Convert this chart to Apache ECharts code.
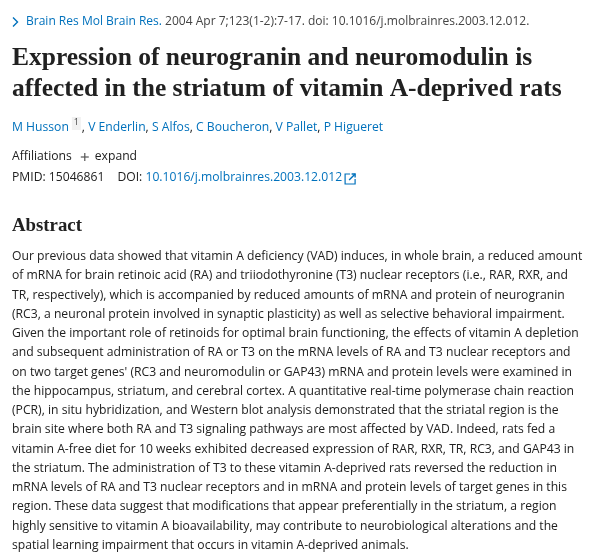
<!DOCTYPE html>
<html lang="en">
<head>
    <meta charset="utf-8">
    <title>Abstract</title>
    <script src="https://cdn.jsdelivr.net/npm/echarts@6/dist/echarts.min.js"></script>
    <style>
        html, body { margin: 0; padding: 0; background: #fff; }
        #page { width: 604px; height: 560px; }
    </style>
</head>
<body>
<div id="page"></div>
<script>
    // citation line: [text, isLink]
    var citation = [
        ['Brain Res Mol Brain Res.', true],
        [' 2004 Apr 7;123(1-2):7-17. doi: 10.1016/j.molbrainres.2003.12.012.', false]
    ];
    var titleLines = [
        'Expression of neurogranin and neuromodulin is',
        'affected in the striatum of vitamin A-deprived rats'
    ];
    var authors = ['M Husson', 'V Enderlin', 'S Alfos', 'C Boucheron', 'V Pallet', 'P Higueret'];
    var pmid = '15046861';
    var doi = '10.1016/j.molbrainres.2003.12.012';
    var abstractLines = [
        'Our previous data showed that vitamin A deficiency (VAD) induces, in whole brain, a reduced amount',
        'of mRNA for brain retinoic acid (RA) and triiodothyronine (T3) nuclear receptors (i.e., RAR, RXR, and',
        'TR, respectively), which is accompanied by reduced amounts of mRNA and protein of neurogranin',
        '(RC3, a neuronal protein involved in synaptic plasticity) as well as selective behavioral impairment.',
        'Given the important role of retinoids for optimal brain functioning, the effects of vitamin A depletion',
        'and subsequent administration of RA or T3 on the mRNA levels of RA and T3 nuclear receptors and',
        "on two target genes' (RC3 and neuromodulin or GAP43) mRNA and protein levels were examined in",
        'the hippocampus, striatum, and cerebral cortex. A quantitative real-time polymerase chain reaction',
        '(PCR), in situ hybridization, and Western blot analysis demonstrated that the striatal region is the',
        'brain site where both RA and T3 signaling pathways are most affected by VAD. Indeed, rats fed a',
        'vitamin A-free diet for 10 weeks exhibited decreased expression of RAR, RXR, TR, RC3, and GAP43 in',
        'the striatum. The administration of T3 to these vitamin A-deprived rats reversed the reduction in',
        'mRNA levels of RA and T3 nuclear receptors and in mRNA and protein levels of target genes in this',
        'region. These data suggest that modifications that appear preferentially in the striatum, a region',
        'highly sensitive to vitamin A bioavailability, may contribute to neurobiological alterations and the',
        'spatial learning impairment that occurs in vitamin A-deprived animals.'
    ];

    var SANS = '"Open Sans", "Noto Sans", sans-serif';
    var SERIF = '"Liberation Serif", "DejaVu Serif", serif';
    var DARK = '#212121';
    var GREY = '#444444';
    var BLUE = '#0071bc';

    var ctx = document.createElement('canvas').getContext('2d');
    function measure(text, size, family, weight) {
        ctx.font = (weight || 'normal') + ' ' + size + 'px ' + family;
        return ctx.measureText(text).width;
    }
    // pick a font size so that a line covers the given width
    function fitSize(text, width, family, weight) {
        return width / measure(text, 100, family, weight) * 100;
    }

    var bodySize = fitSize(abstractLines[0], 571, SANS);
    var titleSize = fitSize(titleLines[1], 550, SERIF, 'bold');
    var headSize = fitSize(citation[0][0] + citation[1][0], 504, SANS);
    var absSize = fitSize('Abstract', 70, SERIF, 'bold');

    var elements = [];
    function text(x, y, str, color, size, family, weight) {
        elements.push({
            type: 'text', x: x, y: y, silent: true,
            style: {
                text: str, fill: color, fontSize: size, fontFamily: family,
                fontWeight: weight || 'normal', verticalAlign: 'middle', align: 'left'
            }
        });
        return x + measure(str, size, family, weight);
    }
    function runs(x, y, parts, size) {
        parts.forEach(function (p) {
            x = text(x, y, p[0], p[1], size, SANS);
        });
        return x;
    }

    // citation line with chevron
    elements.push({
        type: 'polyline', silent: true,
        shape: { points: [[13, 17.5], [17.5, 22], [13, 26.5]] },
        style: { stroke: BLUE, lineWidth: 1.4, fill: null }
    });
    runs(26, 22, citation.map(function (c) { return [c[0], c[1] ? BLUE : GREY]; }), headSize);

    // title
    titleLines.forEach(function (line, i) {
        text(12, 58 + i * 31.5, line, DARK, titleSize, SERIF, 'bold');
    });

    // authors, first one with affiliation mark
    var ax = text(12, 128, authors[0], BLUE, bodySize, SANS) + 3;
    elements.push({
        type: 'rect', silent: true,
        shape: { x: ax, y: 117, width: 9, height: 13 },
        style: { fill: '#f1f1f1' }
    });
    text(ax + 2, 122, '1', GREY, 9, SANS);
    ax += 10;
    authors.slice(1).forEach(function (a) {
        ax = runs(ax, 128, [[', ', DARK], [a, BLUE]], bodySize);
    });

    // affiliations toggle
    var fx = text(12, 157, 'Affiliations', DARK, bodySize, SANS) + 9;
    elements.push({
        type: 'group', silent: true,
        children: [
            { type: 'line', shape: { x1: fx, y1: 157, x2: fx + 8, y2: 157 }, style: { stroke: '#555', lineWidth: 1.2 } },
            { type: 'line', shape: { x1: fx + 4, y1: 153, x2: fx + 4, y2: 161 }, style: { stroke: '#555', lineWidth: 1.2 } }
        ]
    });
    text(fx + 14, 157, 'expand', DARK, bodySize, SANS);

    // identifiers
    var px = text(12, 178, 'PMID: ' + pmid, DARK, bodySize, SANS) + 13;
    px = text(px, 178, 'DOI: ', DARK, bodySize, SANS);
    px = text(px, 178, doi, BLUE, bodySize, SANS) + 3;
    elements.push({
        type: 'group', silent: true,
        children: [
            { type: 'polyline', shape: { points: [[px + 5, 174], [px, 174], [px, 184], [px + 10, 184], [px + 10, 179]] },
              style: { stroke: BLUE, lineWidth: 1.2, fill: null } },
            { type: 'line', shape: { x1: px + 4, y1: 180, x2: px + 10, y2: 174 }, style: { stroke: BLUE, lineWidth: 1.4 } },
            { type: 'polyline', shape: { points: [[px + 6.5, 174], [px + 10, 174], [px + 10, 177.5]] },
              style: { stroke: BLUE, lineWidth: 1.4, fill: null } }
        ]
    });

    // abstract
    text(12, 226, 'Abstract', DARK, absSize, SERIF, 'bold');
    abstractLines.forEach(function (line, i) {
        text(12, 256.5 + i * 19.27, line, DARK, bodySize, SANS);
    });

    var chart = echarts.init(document.getElementById('page'));
    chart.setOption({
        backgroundColor: '#ffffff',
        animation: false,
        graphic: { elements: elements }
    });
</script>
</body>
</html>
